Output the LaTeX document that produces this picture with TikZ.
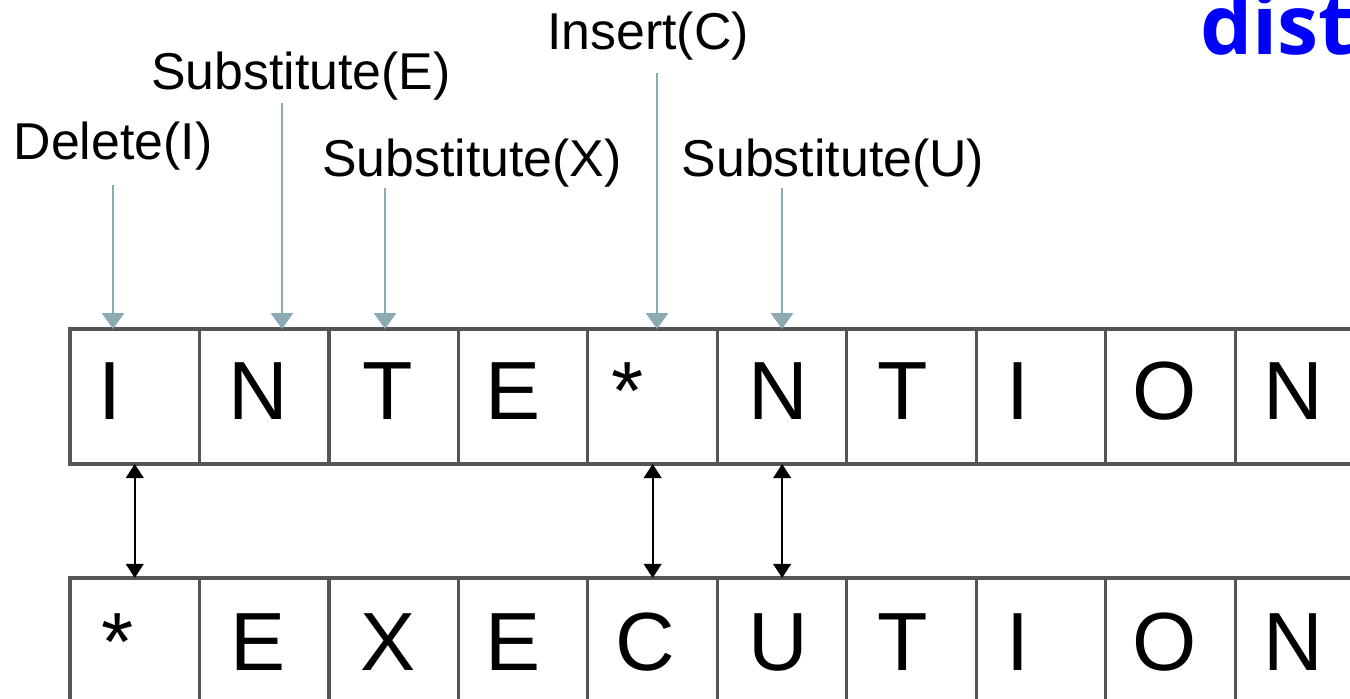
\documentclass[tikz,border=0pt]{standalone}
\usepackage{fontspec}
\setmainfont{Liberation Sans}
\newfontfamily\headfont{Open Sans}
\usetikzlibrary{positioning, arrows.meta}

\definecolor{arrowgray}{RGB}{140,170,180}
\definecolor{boxgray}{RGB}{85,85,85}

\begin{document}
\begin{tikzpicture}[
        x=0.02cm, y=-0.02cm,
        cell/.style={draw=boxgray, line width=1.8pt, minimum width=2.59cm, minimum height=2.7cm, inner sep=0pt, outer sep=0pt},
        letter/.style={anchor=base, inner sep=0pt, font=\fontsize{47}{50}\selectfont},
        oplabel/.style={anchor=base, inner sep=0pt, font=\fontsize{29.5}{31}\selectfont},
        oparrow/.style={draw=arrowgray, line width=1.3pt, -{Triangle[width=12.5pt, length=9pt, fill=arrowgray]}},
        match/.style={line width=1.3pt, {Triangle[width=10pt, length=8pt]}-{Triangle[width=10pt, length=8pt]}}
    ]

    \useasboundingbox (0,0) rectangle (1350,699);
    \clip (0,0) rectangle (1350,699);

    % top row: INTE*NTION
    \node[cell] (t1) at (134.75,396.5) {};
    \foreach \i [remember=\i as \j (initially 1)] in {2,...,10}
        \node[cell, right=0pt of t\j] (t\i) {};

    % bottom row: *EXECUTION
    \node[cell, below=2.28cm of t1] (b1) {};
    \foreach \i [remember=\i as \j (initially 1)] in {2,...,10}
        \node[cell, right=0pt of b\j] (b\i) {};

    % letters
    \foreach \ch/\x [count=\i] in {I/110, N/258, T/388, E/513, */628, N/778, T/903, I/1018, O/1165, N/1293}
        \node[letter] (lt\i) at (\x,419) {\ch};
    \foreach \ch/\x [count=\i] in {*/118, E/258, X/388, E/513, C/645, U/778, T/903, I/1018, O/1165, N/1293}
        \node[letter] (lb\i) at (\x,670) {\ch};

    % operations
    \node[oplabel] (del)  at (113,160) {Delete(I)};
    \node[oplabel] (subE) at (301,90)  {Substitute(E)};
    \node[oplabel] (subX) at (472,177) {Substitute(X)};
    \node[oplabel] (ins)  at (648,50)  {Insert(C)};
    \node[oplabel] (subU) at (833,177) {Substitute(U)};

    \coordinate (pI) at (113,329);
    \coordinate (pE) at (282,329);
    \coordinate (pX) at (385,329);
    \coordinate (pC) at (657,329);
    \coordinate (pU) at (782,329);

    \draw[oparrow, shorten <=8pt] (del.south -| pI) -- (pI);
    \draw[oparrow, shorten <=1pt] (subE.south -| pE) -- (pE);
    \draw[oparrow] (subX.south -| pX) -- (pX);
    \draw[oparrow, shorten <=7pt] (ins.south -| pC) -- (pC);
    \draw[oparrow] (subU.south -| pU) -- (pU);

    % matched positions
    \draw[match] (t1.south) -- (b1.north);
    \draw[match] (t5.south) -- (b5.north);
    \draw[match] (t6.south) -- (b6.north);

    % cut-off heading
    \node[anchor=base west, inner sep=0pt, text=blue, font=\headfont\bfseries\fontsize{47}{50}\selectfont] (head) at (1200,55) {dist};

\end{tikzpicture}
\end{document}
